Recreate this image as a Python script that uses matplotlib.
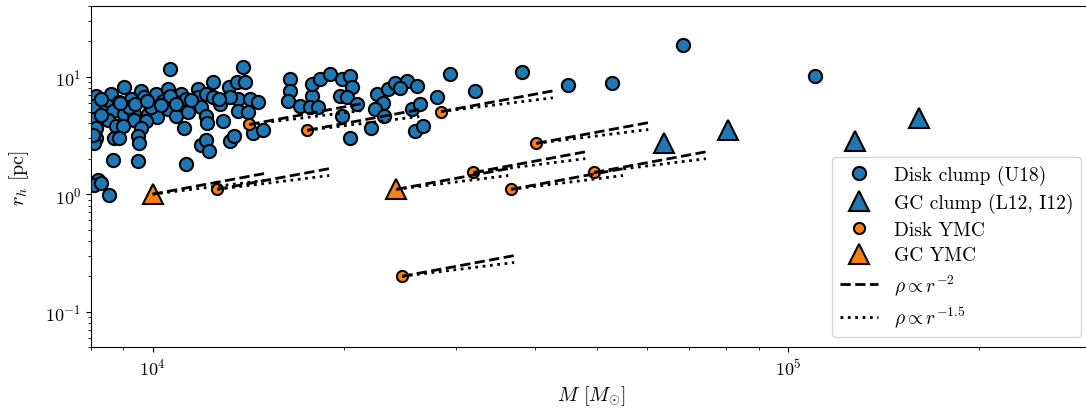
import numpy as np
import matplotlib.pyplot as plt

plt.rcParams['font.family'] = 'serif'
plt.rcParams['font.serif'] = ['cmr10']
plt.rcParams['mathtext.fontset'] = 'cm'
plt.rcParams['axes.formatter.use_mathtext'] = True
plt.rcParams['font.size'] = 13

# disk clumps (U18)
disk_clump_m = [10670, 13900, 8136, 8590, 9003, 9574, 10110, 10560, 11070, 11770,
                12430, 13170, 13600, 14000, 8194, 8495, 8841, 9234, 9679, 10370,
                10670, 11070, 11770, 12120, 12470, 13650, 14260, 14630, 8080, 8344,
                8652, 9003, 9335, 9820, 10180, 10560, 10870, 11350, 11900, 12120,
                13650, 14150, 8136, 8495, 8744, 9335, 9750, 12200, 12930, 8136,
                8683, 8970, 9574, 11190, 8841, 9472, 8080, 9506, 11900, 12120,
                13260, 13410, 12250, 14410, 14940, 8652, 9472, 11270, 8194, 8080,
                8526, 8284, 8050, 8050, 8284, 9167, 9929, 11270, 12790, 13260,
                16480, 16480, 16360, 17090, 17850, 17850, 18370, 19050, 19890, 20480,
                20630, 19750, 20260, 21010, 17720, 18240, 19890, 20480, 22590, 23080,
                22420, 22100, 23510, 24110, 25180, 26110, 24550, 23170, 25640, 26400,
                25920, 26680, 28060, 29420, 32200, 38170, 45100, 52900, 68400, 110300,
                8900, 9400, 10300, 11500, 12700, 8300, 9800, 10900]
disk_clump_r = [11.7, 12.2, 6.90, 7.18, 8.23, 7.61, 7.18, 7.91, 7.18, 7.91,
                9.07, 8.23, 9.07, 9.07, 5.15, 5.68, 6.14, 6.51, 6.77, 6.26,
                6.90, 6.14, 6.77, 7.18, 6.77, 6.51, 6.51, 6.14, 4.41, 5.05,
                5.15, 4.86, 4.86, 4.86, 4.58, 5.35, 4.67, 5.05, 5.57, 4.67,
                5.15, 5.05, 3.63, 4.24, 3.84, 4.24, 4.16, 4.00, 4.16, 2.98,
                2.98, 3.77, 3.63, 3.63, 2.98, 3.10, 2.71, 2.71, 2.60, 2.87,
                2.81, 3.10, 2.31, 3.29, 3.49, 1.94, 1.90, 1.80, 1.31, 1.19,
                0.98, 1.24, 5.68, 3.16, 6.51, 5.57, 5.57, 6.51, 5.90, 6.77,
                9.62, 7.61, 6.26, 5.68, 6.90, 8.72, 9.62, 10.6, 9.62, 10.2,
                8.23, 6.90, 6.77, 5.90, 5.57, 5.57, 4.67, 2.98, 7.18, 6.02,
                5.35, 3.63, 7.91, 8.90, 9.25, 8.39, 8.07, 4.67, 5.35, 5.90,
                3.42, 3.77, 6.77, 10.6, 7.61, 11.0, 8.55, 8.90, 18.7, 10.2,
                6.0, 5.9, 5.8, 6.3, 6.4, 4.7, 6.2, 5.9]

# GC clumps (L12, I12)
gc_clump_m = [63800, 80500, 127400, 160700]
gc_clump_r = [2.71, 3.49, 2.81, 4.49]

# young massive clusters
disk_ymc_m = [12650, 14200, 17530, 28450, 40200, 32000, 36680, 49550, 24720]
disk_ymc_r = [1.10, 3.92, 3.5, 5.05, 2.71, 1.53, 1.10, 1.53, 0.20]
gc_ymc_m = [10000, 24200]
gc_ymc_r = [1.0, 1.1]

grow = 1.5  # mass growth factor shown by the guide lines

fig = plt.figure(figsize=(10.86, 4.10), dpi=100)
ax = fig.add_axes([91 / 1086, 62 / 410, 1000 / 1086, 341 / 410])

ax.plot(disk_clump_m, disk_clump_r, 'o', color='C0', mec='k', mew=1.5, ms=9.5,
        ls='none', label='Disk clump (U18)')
ax.plot(gc_clump_m, gc_clump_r, '^', color='C0', mec='k', mew=1.5, ms=15,
        ls='none', label='GC clump (L12, I12)')
ax.plot(disk_ymc_m, disk_ymc_r, 'o', color='C1', mec='k', mew=1.5, ms=8,
        ls='none', label='Disk YMC')
ax.plot(gc_ymc_m, gc_ymc_r, '^', color='C1', mec='k', mew=1.5, ms=15,
        ls='none', label='GC YMC')

ymc_m = np.array(disk_ymc_m + gc_ymc_m)
ymc_r = np.array(disk_ymc_r + gc_ymc_r)
for i, (m, r) in enumerate(zip(ymc_m, ymc_r)):
    mm = np.array([m, grow * m])
    ax.plot(mm, r * (mm / m), 'k--', lw=2, label=r'$\rho\propto r^{-2}$' if i == 0 else None)
    ax.plot(mm, r * (mm / m) ** (2 / 3), 'k:', lw=2, label=r'$\rho\propto r^{-1.5}$' if i == 0 else None)

ax.set_xscale('log')
ax.set_yscale('log')
ax.set_xlim(8000, 3e5)
ax.set_ylim(0.05, 40)
ax.set_xlabel(r'$M$ [$M_{\odot}$]', fontsize=14.5)
ax.set_ylabel(r'$r_h$ [pc]', fontsize=14.5, labelpad=10)
ax.legend(loc='lower right', fontsize=14, labelspacing=0.4)

fig.savefig('out.png', dpi=100)
